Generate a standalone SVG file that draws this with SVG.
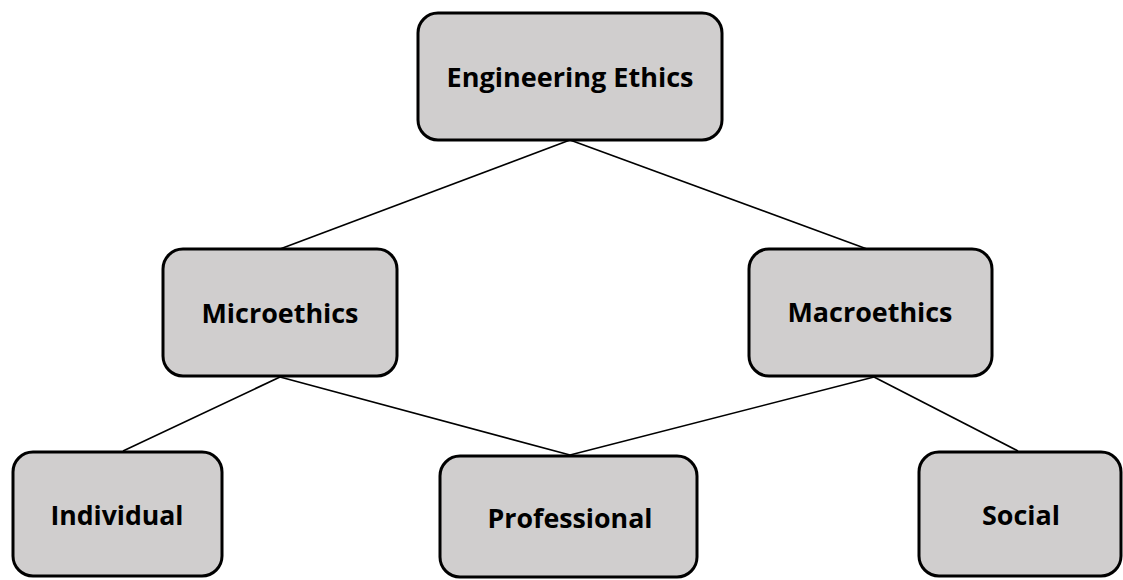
<svg xmlns="http://www.w3.org/2000/svg" width="1123" height="580" viewBox="0 0 1123 580">
  <style>
    .box { fill: #d0cece; stroke: #000; stroke-width: 3; }
    .label { font-family: "Open Sans", "Liberation Sans", sans-serif; font-weight: bold; font-size: 27px; fill: #000; text-anchor: middle; }
    .link { stroke: #000; stroke-width: 1.6; fill: none; }
  </style>
  <rect width="1123" height="580" fill="#fff"/>

  <g id="connectors">
    <line class="link" x1="570" y1="140" x2="280" y2="249"/>
    <line class="link" x1="570" y1="140" x2="867" y2="249"/>
    <line class="link" x1="280" y1="377" x2="123" y2="451"/>
    <line class="link" x1="280" y1="377" x2="570" y2="455"/>
    <line class="link" x1="874" y1="377" x2="570" y2="455"/>
    <line class="link" x1="874" y1="377" x2="1018" y2="451"/>
  </g>

  <g id="engineering-ethics">
    <rect class="box" x="418" y="13" width="304" height="127" rx="20"/>
    <text class="label" x="570" y="87" textLength="247" lengthAdjust="spacingAndGlyphs">Engineering Ethics</text>
  </g>

  <g id="microethics">
    <rect class="box" x="163" y="249" width="234" height="127" rx="20"/>
    <text class="label" x="280" y="323" textLength="157" lengthAdjust="spacingAndGlyphs">Microethics</text>
  </g>

  <g id="macroethics">
    <rect class="box" x="749" y="249" width="243" height="127" rx="20"/>
    <text class="label" x="870" y="322" textLength="165" lengthAdjust="spacingAndGlyphs">Macroethics</text>
  </g>

  <g id="individual">
    <rect class="box" x="13" y="452" width="209" height="124" rx="20"/>
    <text class="label" x="117" y="525" textLength="133" lengthAdjust="spacingAndGlyphs">Individual</text>
  </g>

  <g id="professional">
    <rect class="box" x="440" y="456" width="257" height="121" rx="20"/>
    <text class="label" x="570" y="528" textLength="165" lengthAdjust="spacingAndGlyphs">Professional</text>
  </g>

  <g id="social">
    <rect class="box" x="919" y="452" width="202" height="124" rx="20"/>
    <text class="label" x="1021" y="525" textLength="78" lengthAdjust="spacingAndGlyphs">Social</text>
  </g>
</svg>
